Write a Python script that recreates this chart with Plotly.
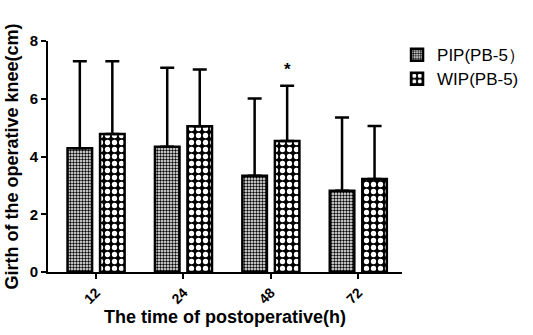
import plotly.graph_objects as go

categories = ["12", "24", "48", "72"]
pip_mean = [4.29, 4.34, 3.33, 2.81]
pip_sd = [3.01, 2.73, 2.68, 2.54]
wip_mean = [4.78, 5.05, 4.54, 3.22]
wip_sd = [2.52, 1.96, 1.91, 1.84]
series_names = ["PIP(PB-5）", "WIP(PB-5)"]
y_ticks = [0, 2, 4, 6, 8]

font_family = "Liberation Sans, Arial, sans-serif"

fig = go.Figure()
fig.add_trace(go.Bar(
    x=categories, y=pip_mean, name=series_names[0], legend="legend",
    marker=dict(color="white", line=dict(color="black", width=2.5),
                pattern=dict(shape=".", size=3, solidity=0.5, fgcolor="black", bgcolor="white", fillmode="replace")),
    error_y=dict(type="data", array=pip_sd, arrayminus=[0]*len(pip_sd), symmetric=False,
                 color="black", thickness=2.5, width=7),
))
fig.add_trace(go.Bar(
    x=categories, y=wip_mean, name=series_names[1], legend="legend2",
    marker=dict(color="white", line=dict(color="black", width=2.5),
                pattern=dict(shape=".", size=7, solidity=0.45, fgcolor="white", bgcolor="black", fillmode="replace")),
    error_y=dict(type="data", array=wip_sd, arrayminus=[0]*len(wip_sd), symmetric=False,
                 color="black", thickness=2.5, width=7),
))

# significance marker above WIP at 48h
sig_idx = 2
fig.add_annotation(x=sig_idx, y=wip_mean[sig_idx] + wip_sd[sig_idx], xref="x", yref="y",
                   text="<b>*</b>", showarrow=False, xshift=17, yshift=16,
                   font=dict(size=17, color="black", family=font_family))

legend_common = dict(xanchor="left", yanchor="middle",
                     font=dict(size=17, color="black", family=font_family),
                     bgcolor="rgba(0,0,0,0)", borderwidth=0)

fig.update_layout(
    width=533, height=335,
    margin=dict(l=48, r=131, t=41, b=63, autoexpand=False),
    paper_bgcolor="white", plot_bgcolor="white",
    barmode="group", bargap=0.256, bargroupgap=0.245,
    font=dict(family=font_family, color="black"),
    legend=dict(x=0.986, y=0.939, **legend_common),
    legend2=dict(x=0.986, y=0.835, **legend_common),
    showlegend=True,
)
fig.update_xaxes(
    type="category", range=[-0.55, 3.5],
    showline=True, linecolor="black", linewidth=2,
    ticks="outside", ticklen=5, tickwidth=2, tickcolor="black",
    tickangle=-45, tickfont=dict(size=14, family=font_family, weight="bold"),
    title=dict(text="<b>The time of postoperative(h)</b>", font=dict(size=18), standoff=2),
    showgrid=False, zeroline=False, automargin=False,
)
fig.update_yaxes(
    range=[0, 8], tickvals=y_ticks,
    showline=True, linecolor="black", linewidth=2,
    ticks="outside", ticklen=5, tickwidth=2, tickcolor="black",
    tickfont=dict(size=15, family=font_family, weight="bold"),
    title=dict(text="<b>Girth of the operative knee(cm)</b>", font=dict(size=18), standoff=6),
    showgrid=False, zeroline=False, automargin=False,
)

fig.write_html("out.html", config={"displayModeBar": False},
               post_script="document.body.style.margin='0';")
